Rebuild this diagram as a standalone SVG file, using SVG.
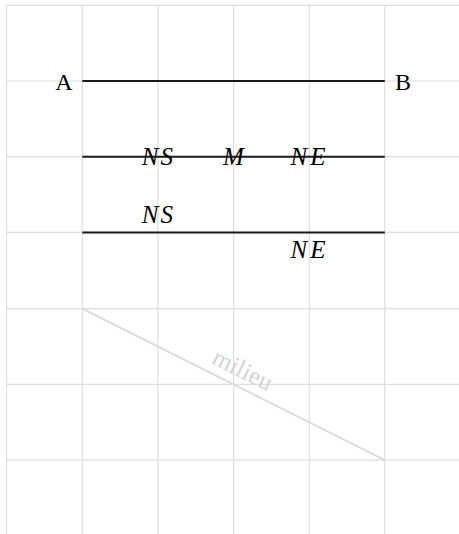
<svg xmlns="http://www.w3.org/2000/svg" width="459" height="534" viewBox="0 0 459 534">
<style>
.grid line{stroke:#dedede;stroke-width:1.2}
.seg{stroke:#1a1a1a;stroke-width:2}
.lbl{font-family:"Liberation Serif","DejaVu Serif","Times New Roman",serif;font-size:24px;fill:#000}
.math{font-family:"Liberation Serif","DejaVu Serif","Times New Roman",serif;font-style:italic;font-size:25px;fill:#000;text-anchor:middle}
.mil{font-family:"Liberation Serif","DejaVu Serif","Times New Roman",serif;font-size:25px;fill:#d4d4d4;text-anchor:middle}
</style>
<rect width="459" height="534" fill="#fff"/>
<g class="grid">
<line x1="6.5" y1="5" x2="6.5" y2="534"/>
<line x1="82.3" y1="5" x2="82.3" y2="534"/>
<line x1="158" y1="5" x2="158" y2="534"/>
<line x1="233.6" y1="5" x2="233.6" y2="534"/>
<line x1="309.3" y1="5" x2="309.3" y2="534"/>
<line x1="384.8" y1="5" x2="384.8" y2="534"/>
<line x1="6.5" y1="5.3" x2="459" y2="5.3"/>
<line x1="6.5" y1="81" x2="459" y2="81"/>
<line x1="6.5" y1="156.7" x2="459" y2="156.7"/>
<line x1="6.5" y1="232.4" x2="459" y2="232.4"/>
<line x1="6.5" y1="308.6" x2="459" y2="308.6"/>
<line x1="6.5" y1="384.4" x2="459" y2="384.4"/>
<line x1="6.5" y1="460.2" x2="459" y2="460.2"/>
</g>
<g id="connectors">
<line class="seg" x1="82.3" y1="81" x2="384.8" y2="81"/>
<line class="seg" x1="82.3" y1="156.7" x2="384.8" y2="156.7"/>
<line class="seg" x1="82.3" y1="232.4" x2="384.8" y2="232.4"/>
<line x1="82.3" y1="308.6" x2="384.8" y2="460.2" stroke="#dcdcdc" stroke-width="2"/>
</g>
<g id="A"><text class="lbl" x="72.5" y="89.5" text-anchor="end">A</text></g>
<g id="B"><text class="lbl" x="395" y="89.5">B</text></g>
<g id="NS1"><text class="math" x="158.3" y="165" letter-spacing="2">NS</text></g>
<g id="M"><text class="math" x="233.4" y="165">M</text></g>
<g id="NE1"><text class="math" x="309.5" y="165" letter-spacing="3">NE</text></g>
<g id="NS2"><text class="math" x="158.3" y="223" letter-spacing="2">NS</text></g>
<g id="NE2"><text class="math" x="309.5" y="258" letter-spacing="3">NE</text></g>
<g id="milieu"><text class="mil" x="0" y="0" transform="translate(239,377) rotate(26.6)">milieu</text></g>
</svg>
